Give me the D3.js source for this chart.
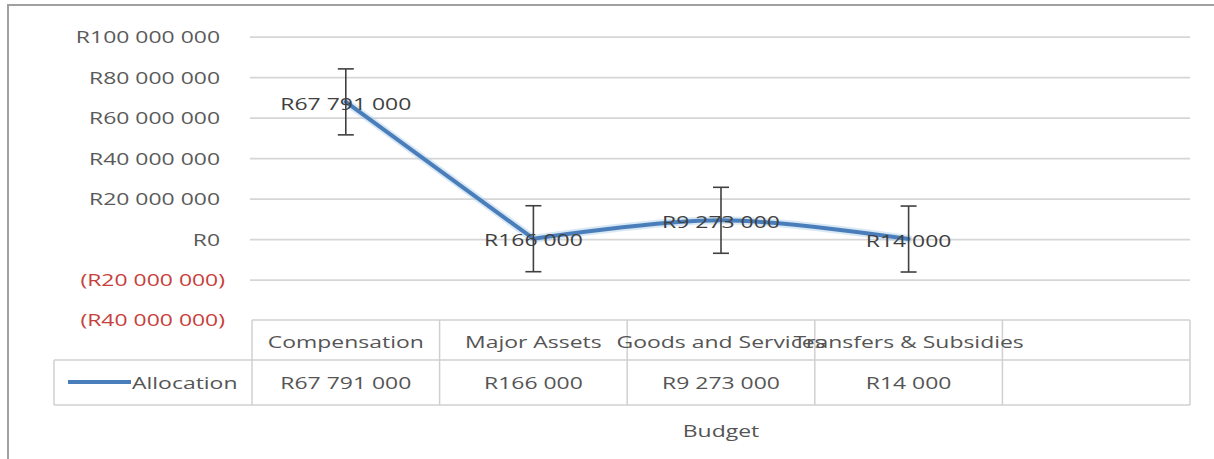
<!DOCTYPE html>
<html>
<head>
<meta charset="utf-8">
<script src="https://cdn.jsdelivr.net/npm/d3@7"></script>
<style>
  html, body { margin: 0; padding: 0; background: #ffffff; }
  svg { display: block; font-family: "Open Sans", "Liberation Sans", sans-serif; }
</style>
</head>
<body>
<svg id="chart" width="1214" height="459"></svg>
<script>
// ---- data ----
const categories = ["Compensation", "Major Assets", "Goods and Services", "Transfers & Subsidies"];
const allocation = [67791000, 166000, 9273000, 14000];
const errorValues = [16300000, 16300000, 16300000, 16300000];
const yTicks = [100000000, 80000000, 60000000, 40000000, 20000000, 0, -20000000, -40000000];
const yTickLabels = ["R100 000 000", "R80 000 000", "R60 000 000", "R40 000 000", "R20 000 000", "R0", "(R20 000 000)", "(R40 000 000)"];
const seriesName = "Allocation";
const axisTitle = "Budget";

// ---- setup ----
const SX = 1.35; // horizontal text stretch of the reference
const svg = d3.select("#chart");
const W = 1214, H = 459;
const plotL = 252, plotR = 1190, plotT = 36.7, plotB = 320;

const locale = d3.formatLocale({decimal: ".", thousands: " ", grouping: [3], currency: ["R", ""]});
const fmt = locale.format("$,d");

const x = d3.scaleBand().domain([...categories, ""]).range([plotL, plotR]).padding(0);
const y = d3.scaleLinear().domain([-40000000, 100000000]).range([plotB, plotT]);

function stretchedText(g, tx, ty, str, anchor, color, size) {
  return g.append("text")
    .attr("transform", `translate(${tx},${ty}) scale(${SX},1)`)
    .attr("text-anchor", anchor)
    .attr("dominant-baseline", "central")
    .attr("fill", color)
    .attr("font-size", size)
    .text(str);
}

// frame
svg.append("path")
  .attr("d", `M8,${H} L8,5 L${W},5`)
  .attr("fill", "none").attr("stroke", "#a0a0a0").attr("stroke-width", 2);

// gridlines
const grid = svg.append("g").attr("transform", `translate(${plotL - 2},0)`)
  .call(d3.axisLeft(y).tickValues(yTicks.filter(v => v > -40000000)).tickSize(-(plotR - plotL + 2)).tickFormat(""));
grid.select(".domain").remove();
grid.selectAll("line").attr("stroke", "#d6d6d6").attr("stroke-width", 1.8);

// y axis labels
const yAxis = svg.append("g").attr("transform", "translate(225,0)")
  .call(d3.axisLeft(y).tickValues(yTicks).tickSize(0).tickPadding(0)
    .tickFormat((d, i) => yTickLabels[i]));
yAxis.select(".domain").remove();
yAxis.selectAll("text")
  .attr("x", d => d < 0 ? 0 : -5 / SX)
  .attr("dy", "0.35em")
  .attr("transform", `scale(${SX},1)`)
  .attr("font-size", 17)
  .attr("font-family", "\"Open Sans\", sans-serif")
  .attr("fill", d => d < 0 ? "#c8403c" : "#5a5a5a");

// data table
const table = svg.append("g");
const gridC = "#d0d0d0";
const rowTop = 320, rowMid = 360, rowBot = 405, legL = 54;
table.append("line").attr("x1", plotL).attr("x2", plotR).attr("y1", rowTop).attr("y2", rowTop).attr("stroke", gridC).attr("stroke-width", 1.5);
table.append("line").attr("x1", legL).attr("x2", plotR).attr("y1", rowMid).attr("y2", rowMid).attr("stroke", gridC).attr("stroke-width", 1.5);
table.append("line").attr("x1", legL).attr("x2", plotR).attr("y1", rowBot).attr("y2", rowBot).attr("stroke", gridC).attr("stroke-width", 1.5);
table.append("line").attr("x1", legL).attr("x2", legL).attr("y1", rowMid).attr("y2", rowBot).attr("stroke", gridC).attr("stroke-width", 1.5);
x.domain().forEach(c => {
  table.append("line").attr("x1", x(c)).attr("x2", x(c)).attr("y1", rowTop).attr("y2", rowBot).attr("stroke", gridC).attr("stroke-width", 1.5);
});
table.append("line").attr("x1", plotR).attr("x2", plotR).attr("y1", rowTop).attr("y2", rowBot).attr("stroke", gridC).attr("stroke-width", 1.5);

categories.forEach((c, i) => {
  stretchedText(table, x(c) + x.bandwidth() / 2, 341, c, "middle", "#555555", 17);
  stretchedText(table, x(c) + x.bandwidth() / 2, 382, fmt(allocation[i]), "middle", "#555555", 17);
});

// legend key in table
table.append("line").attr("x1", 68).attr("x2", 131).attr("y1", 382).attr("y2", 382)
  .attr("stroke", "#4a7ebb").attr("stroke-width", 4);
stretchedText(table, 132, 382, seriesName, "start", "#555555", 17);

// axis title
stretchedText(svg, (plotL + plotR) / 2, 430, axisTitle, "middle", "#555555", 17);

// series line: straight first segment, smoothed afterwards (as in the reference)
const pts = categories.map((c, i) => [x(c) + x.bandwidth() / 2, y(allocation[i])]);
const linLine = d3.line();
const smoothLine = d3.line().curve(d3.curveCardinal.tension(0));
const dPath = linLine(pts.slice(0, 2)) + smoothLine(pts.slice(1)).replace(/^M[^C]*/, "");
svg.append("path").attr("d", dPath).attr("fill", "none")
  .attr("stroke", "#a9cbe9").attr("stroke-width", 8).attr("stroke-opacity", 0.45).attr("stroke-linecap", "round").attr("stroke-linejoin", "round");
svg.append("path").attr("d", dPath).attr("fill", "none")
  .attr("stroke", "#4a7ebb").attr("stroke-width", 4).attr("stroke-linecap", "round").attr("stroke-linejoin", "round");

// error bars
const eb = svg.append("g").attr("stroke", "#404040").attr("stroke-width", 1.6);
categories.forEach((c, i) => {
  const cx = x(c) + x.bandwidth() / 2;
  const y1 = y(allocation[i] + errorValues[i]);
  const y2 = y(allocation[i] - errorValues[i]);
  eb.append("line").attr("x1", cx).attr("x2", cx).attr("y1", y1).attr("y2", y2);
  eb.append("line").attr("x1", cx - 8).attr("x2", cx + 8).attr("y1", y1).attr("y2", y1);
  eb.append("line").attr("x1", cx - 8).attr("x2", cx + 8).attr("y1", y2).attr("y2", y2);
});

// data labels
const labels = svg.append("g");
categories.forEach((c, i) => {
  stretchedText(labels, x(c) + x.bandwidth() / 2, y(allocation[i]) + 1, fmt(allocation[i]), "middle", "#404040", 17);
});
</script>
</body>
</html>
